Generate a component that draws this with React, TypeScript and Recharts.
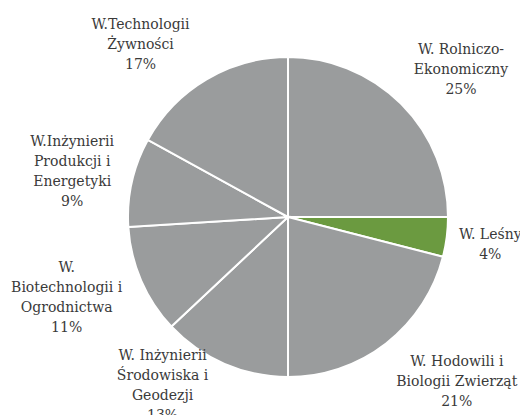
import { PieChart, Pie, Cell } from "recharts";

const faculties = [
  "W. Rolniczo-\nEkonomiczny",
  "W. Leśny",
  "W. Hodowili i\nBiologii Zwierząt",
  "W. Inżynierii\nŚrodowiska i\nGeodezji",
  "W.\nBiotechnologii i\nOgrodnictwa",
  "W.Inżynierii\nProdukcji i\nEnergetyki",
  "W.Technologii\nŻywności",
];
const shares = [25, 4, 21, 13, 11, 9, 17];
const colors = ["#9a9c9d", "#6b9a40", "#9a9c9d", "#9a9c9d", "#9a9c9d", "#9a9c9d", "#9a9c9d"];

// label nudges from the radial anchor (Excel-style "best fit" placement)
const labelNudge = [
  [21, 4],
  [-11, 0],
  [37, -6],
  [-40, -29],
  [-24, -5],
  [-6, 1],
  [-38, 12],
];

const data = faculties.map((name, i) => ({ name, value: shares[i] }));

const RAD = Math.PI / 180;
const LINE = 20;

function renderLabel(props: any) {
  const { cx, cy, midAngle, outerRadius, index } = props;
  const r = outerRadius + 55;
  const x = cx + r * Math.cos(-midAngle * RAD) + labelNudge[index][0];
  const y = cy + r * Math.sin(-midAngle * RAD) + labelNudge[index][1];
  const lines = [...faculties[index].split("\n"), `${shares[index]}%`];
  const top = y - ((lines.length - 1) * LINE) / 2;
  return (
    <text
      x={x}
      y={top}
      textAnchor="middle"
      dominantBaseline="central"
      fill="#3a3a3a"
      fontSize={14}
      style={{ fontFamily: "'DejaVu Serif', serif" }}
    >
      {lines.map((l, k) => (
        <tspan key={k} x={x} y={top + k * LINE}>
          {l}
        </tspan>
      ))}
    </text>
  );
}

export default function App() {
  return (
    <PieChart width={520} height={407} margin={{ top: 0, right: 0, bottom: 0, left: 0 }}>
      <Pie
        data={data}
        dataKey="value"
        cx={280}
        cy={209}
        outerRadius={160}
        startAngle={90}
        endAngle={-270}
        stroke="#ffffff"
        strokeWidth={2}
        label={renderLabel}
        labelLine={false}
        isAnimationActive={false}
      >
        {data.map((d, i) => (
          <Cell key={d.name} fill={colors[i]} />
        ))}
      </Pie>
    </PieChart>
  );
}
